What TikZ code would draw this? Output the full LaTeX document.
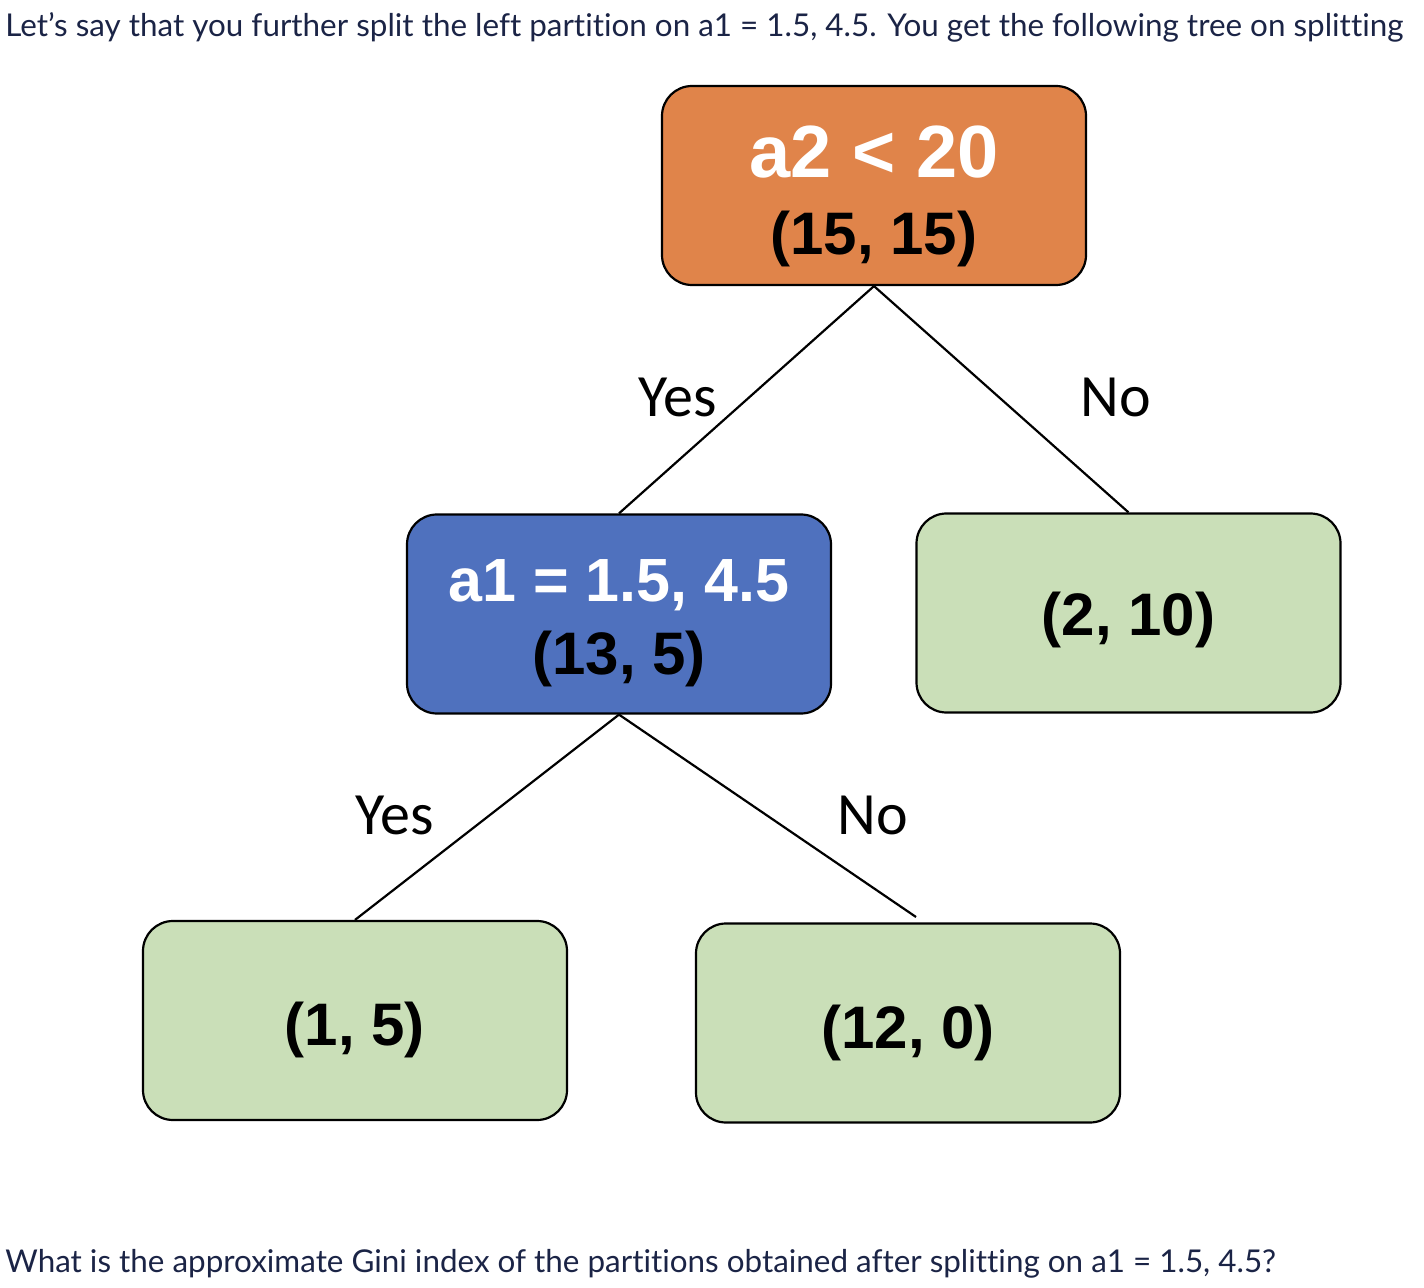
\documentclass[tikz,border=0pt]{standalone}
\usepackage{fontspec}
\setmainfont{Liberation Sans}
\newfontfamily\labfont{Carlito}
\newfontfamily\txtfont[Ligatures={NoCommon}]{Lato}
\definecolor{orangebox}{HTML}{E0844A}
\definecolor{bluebox}{HTML}{4F71BE}
\definecolor{greenbox}{HTML}{CADFB8}
\definecolor{navy}{HTML}{1B2446}
\begin{document}
\begin{tikzpicture}[x=0.5pt,y=-0.5pt,
  box/.style={draw=black,line width=1.1pt,rounded corners=15pt,minimum width=212pt,minimum height=99.5pt,inner sep=0pt},
  big/.style={font=\bfseries\fontsize{37}{40}\selectfont,text=white,anchor=base,inner sep=0pt},
  mid/.style={font=\bfseries\fontsize{30}{33}\selectfont,text=black,anchor=base,inner sep=0pt},
  midw/.style={font=\bfseries\fontsize{30.5}{33}\selectfont,text=white,anchor=base,inner sep=0pt},
  lab/.style={font=\labfont\fontsize{30}{33}\selectfont,anchor=base,inner sep=0pt},
  para/.style={font=\txtfont\fontsize{15.7}{18}\selectfont,text=navy,anchor=base west,inner sep=0pt},
  edge/.style={line width=1.1pt}]
\useasboundingbox (0,0) rectangle (1424,1288);
\node[para] (top) at (5,37) {Let’s say that you further split the left partition on a1 = 1.5, 4.5. You get the following tree on splitting};
\node[para] (bot) at (5,1272) {What is the approximate Gini index of the partitions obtained after splitting on a1 = 1.5, 4.5?};
% boxes
\node[box,fill=orangebox] (root) at (874,185.5) {};
\node[box,fill=bluebox] (mid) at (619,614) {};
\node[box,fill=greenbox] (right) at (1128.5,613) {};
\node[box,fill=greenbox] (ll) at (355,1020.5) {};
\node[box,fill=greenbox] (lr) at (908,1023) {};
% texts
\node[big] (rootA) at (874,178) {a2 < 20};
\node[mid] (rootB) at (874,255) {(15, 15)};
\node[midw] (midA) at (619,602) {a1 = 1.5, 4.5};
\node[mid] (midB) at (619,675) {(13, 5)};
\node[mid] (rightA) at (1128.5,635) {(2, 10)};
\node[mid] (llA) at (355,1045) {(1, 5)};
\node[mid] (lrA) at (908,1048) {(12, 0)};
% edges
\coordinate (lrEnd) at (916,917);
\draw[edge] (root.south) -- (mid.north);
\draw[edge] (root.south) -- (right.north);
\draw[edge] (mid.south) -- (ll.north);
\draw[edge] (mid.south) -- (lrEnd);
% labels
\node[lab] (yes1) at (678,417) {Yes};
\node[lab] (no1) at (1116,417) {No};
\node[lab] (yes2) at (395,834) {Yes};
\node[lab] (no2) at (873,834) {No};
\end{tikzpicture}
\end{document}
